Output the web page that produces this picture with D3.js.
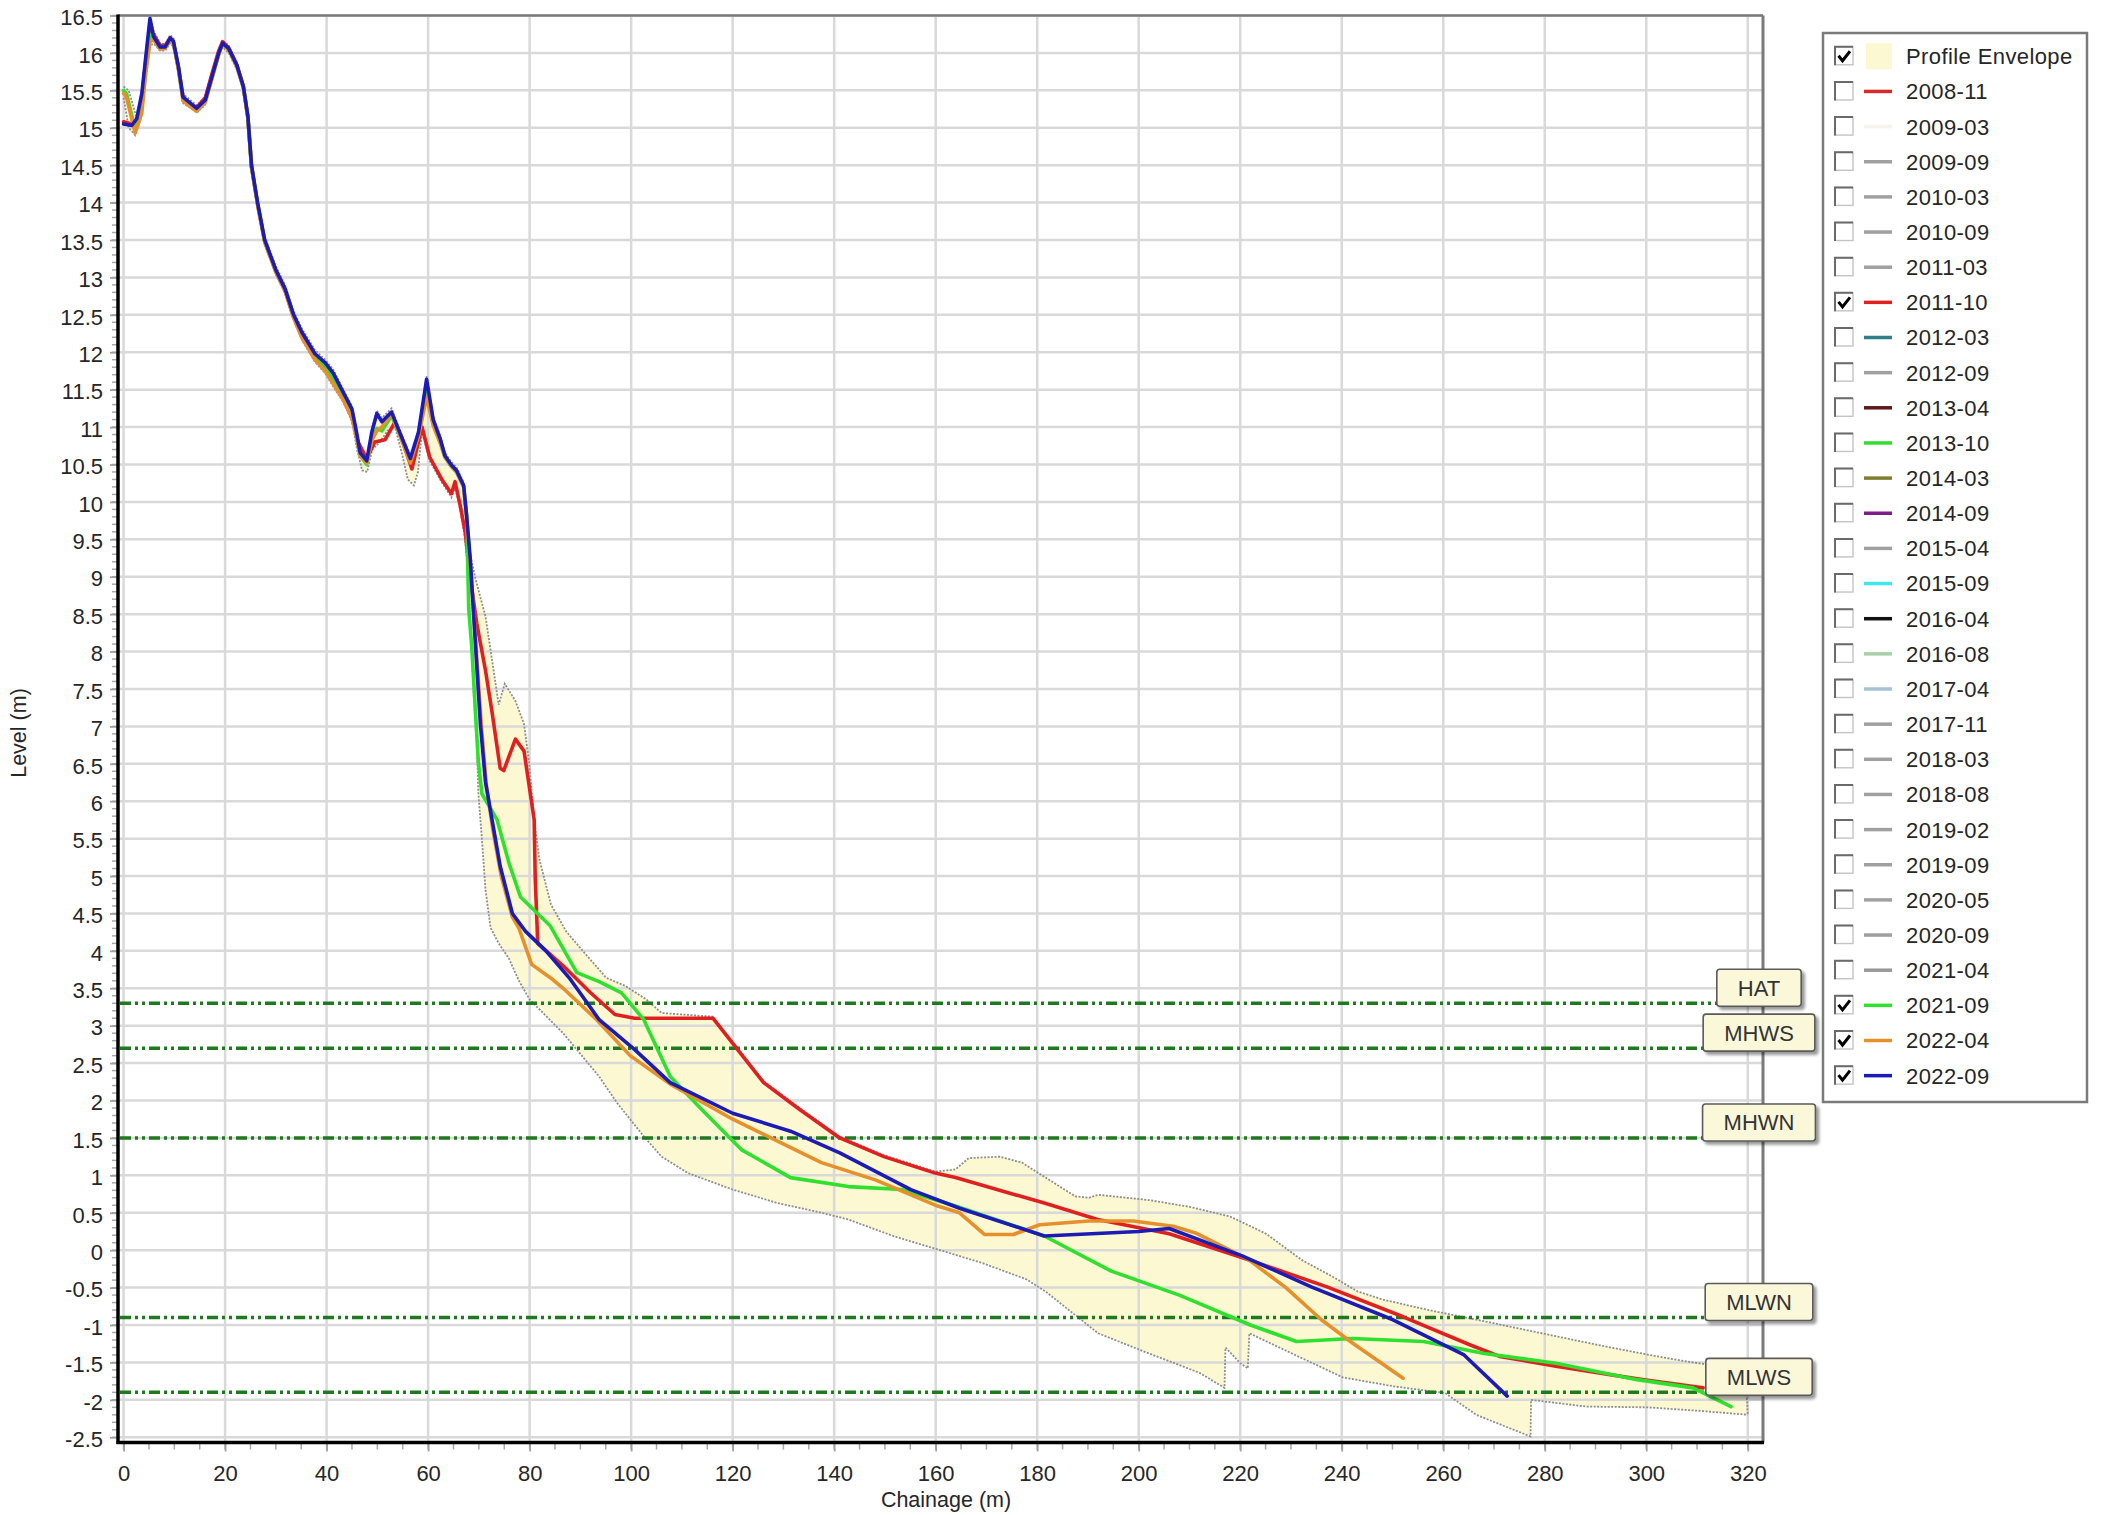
<!DOCTYPE html>
<html>
<head>
<meta charset="utf-8">
<script src="https://cdn.jsdelivr.net/npm/d3@7"></script>
<style>
  html, body { margin: 0; padding: 0; background: #ffffff; }
  svg { display: block; font-family: "Liberation Sans", Arial, sans-serif; }
</style>
</head>
<body>
<svg id="chart" width="2103" height="1515"></svg>
<script>
// ---- Beach profile surveys: [chainage (m), level (m)] ----
const survey2011_10 = [
  [0,15.08],[1.6,15.05],[2.6,15.1],[3.6,15.4],[4.3,15.85],[5.2,16.3],[5.9,16.25],[7.2,16.1],[8.2,16.1],[9.2,16.2],[9.8,16.15],
  [10.8,15.8],[11.7,15.42],[12.8,15.33],[14.4,15.27],[16.1,15.4],[17.4,15.72],[18.7,16.02],[19.5,16.15],[20.7,16.07],[22.3,15.84],
  [23.6,15.55],[24.5,15.13],[25.2,14.48],[26.4,13.98],[27.8,13.48],[30,13.08],[31.8,12.83],[33.5,12.47],[35.1,12.22],[37.7,11.92],
  [39.7,11.76],[41.3,11.6],[43.3,11.38],[45,11.12],[46.2,10.8],[47.9,10.58],[49.5,10.8],[51.5,10.83],[53.5,11.07],[55,10.8],
  [56.8,10.44],[58.8,11.0],[60.3,10.6],[62.7,10.3],[64.6,10.11],[65.3,10.27],[66.3,9.96],[67.3,9.6],[68.3,8.98],[69.6,8.37],
  [71.3,7.75],[72.6,7.19],[74.2,6.44],[74.9,6.41],[77.2,6.83],[78.9,6.67],[79.9,6.21],[80.9,5.75],[81.1,4.98],[81.6,4.1],
  [86.6,3.8],[92,3.44],[96.8,3.15],[100.7,3.1],[116.1,3.1],[126.1,2.24],[133.2,1.88],[141.1,1.5],[149.8,1.25],[159.9,1.03],
  [163.9,0.97],[181.4,0.63],[191.9,0.41],[206,0.22],[220,-0.09],[237.1,-0.49],[252.1,-0.89],[265.1,-1.26],[271.1,-1.42],
  [282.2,-1.55],[299.2,-1.73],[311.2,-1.84]
];
const survey2021_09 = [
  [0,15.5],[0.6,15.45],[2.3,14.97],[3.6,15.3],[4.3,15.8],[5.2,16.25],[5.9,16.2],[7.2,16.08],[8.2,16.08],[9.2,16.18],[9.8,16.14],
  [10.8,15.8],[11.7,15.38],[12.8,15.32],[14.4,15.24],[16.1,15.36],[17.4,15.66],[18.7,15.98],[19.5,16.12],[20.7,16.05],[22.3,15.83],
  [23.6,15.54],[24.5,15.14],[25.2,14.49],[26.4,13.99],[27.8,13.49],[30,13.09],[31.8,12.84],[33.5,12.48],[35.1,12.25],[37.7,11.95],
  [39.7,11.82],[41.3,11.66],[43.3,11.42],[45,11.18],[45.9,10.88],[46.6,10.62],[47.9,10.5],[48.9,10.85],[49.9,10.98],[50.9,10.95],
  [52.8,11.15],[54.1,10.95],[56.5,10.55],[58.1,10.9],[59.7,11.45],[61,11.05],[62.4,10.8],[63.3,10.6],[64.5,10.48],[65.6,10.4],
  [67,10.2],[67.6,9.8],[68,8.57],[68.6,8.06],[69.9,6.52],[70.6,6.1],[73.6,5.75],[75.9,5.18],[78.2,4.72],[84,4.34],[89.3,3.71],
  [93.7,3.59],[98.1,3.44],[102.5,3.08],[107.7,2.32],[113.9,1.88],[121.8,1.34],[131.4,0.97],[142.8,0.85],[153.3,0.81],[163.9,0.59],
  [181.4,0.19],[194.6,-0.28],[208,-0.6],[222,-1.0],[231.1,-1.22],[242.1,-1.18],[256.1,-1.22],[268.1,-1.38],[282.2,-1.51],
  [298.2,-1.73],[309.2,-1.84],[316.7,-2.09]
];
const survey2022_04 = [
  [0,15.46],[0.6,15.4],[2.3,14.93],[3.6,15.2],[4.3,15.7],[5.2,16.15],[5.9,16.18],[7.2,16.05],[8.2,16.06],[9.2,16.17],[9.8,16.13],
  [10.8,15.78],[11.7,15.36],[12.8,15.3],[14.4,15.22],[16.1,15.34],[17.4,15.65],[18.7,15.97],[19.5,16.12],[20.7,16.04],[22.3,15.82],
  [23.6,15.53],[24.5,15.12],[25.2,14.47],[26.4,13.97],[27.8,13.47],[30,13.07],[31.8,12.82],[33.5,12.46],[35.1,12.2],[37.7,11.9],
  [39.7,11.75],[41.3,11.58],[43.3,11.36],[45,11.12],[45.9,10.86],[46.6,10.62],[47.9,10.52],[48.9,10.82],[49.9,10.95],[50.9,11.0],
  [52.8,11.18],[54.1,10.95],[56.5,10.52],[58.1,10.88],[59.7,11.4],[61,11.02],[62.4,10.78],[63.3,10.6],[64.5,10.48],[65.6,10.4],
  [67,10.2],[67.6,9.8],[68.5,9.0],[69.5,8.0],[70.5,7.0],[71.5,6.2],[72.8,5.6],[74.4,5.0],[76.6,4.45],[77.9,4.3],[80.4,3.82],
  [84.5,3.62],[86.6,3.5],[93.2,3.08],[99.8,2.6],[107.7,2.22],[120,1.75],[137.5,1.17],[148.1,0.94],[160.4,0.59],[164.7,0.5],
  [169.6,0.21],[175.3,0.21],[180.5,0.34],[190.2,0.39],[198.9,0.39],[206.8,0.32],[211.2,0.23],[221.5,-0.12],[229,-0.5],
  [236,-0.93],[242.1,-1.24],[252.1,-1.71]
];
const survey2022_09 = [
  [0,15.05],[1.6,15.03],[2.6,15.12],[3.6,15.46],[4.3,15.9],[5.2,16.46],[5.9,16.22],[7.2,16.08],[8.2,16.08],[9.2,16.2],[9.8,16.16],
  [10.8,15.82],[11.7,15.41],[12.8,15.35],[14.4,15.26],[16.1,15.37],[17.4,15.68],[18.7,15.99],[19.5,16.13],[20.7,16.06],[22.3,15.84],
  [23.6,15.55],[24.5,15.15],[25.2,14.5],[26.4,14.0],[27.8,13.5],[30,13.1],[31.8,12.85],[33.5,12.5],[35.1,12.27],[37.7,11.98],
  [39.7,11.86],[41.3,11.72],[43.3,11.46],[45,11.24],[45.9,10.93],[46.6,10.66],[47.9,10.55],[48.9,10.93],[49.9,11.18],[50.9,11.07],
  [52.8,11.2],[54.1,10.98],[56.5,10.58],[58.1,10.93],[59.7,11.64],[61,11.1],[62.4,10.84],[63.3,10.62],[64.5,10.5],[65.6,10.42],
  [67,10.22],[67.6,9.8],[68.3,9.24],[68.9,8.57],[69.6,7.8],[70.3,7.03],[71.3,6.26],[72.6,5.75],[74.2,5.13],[76.6,4.5],[79.2,4.26],
  [83.2,4.0],[87.8,3.64],[93.7,3.08],[100.7,2.68],[107.7,2.24],[120,1.83],[131.4,1.59],[141.1,1.3],[155.1,0.81],[164.7,0.56],
  [181.4,0.19],[200,0.25],[206,0.29],[220.5,-0.08],[234,-0.49],[250.1,-0.93],[264.1,-1.4],[272.6,-1.95]
];

// ---- Profile envelope (highest and lowest level recorded over all surveys) ----
const envelopeUpper = [
  [0,15.55],[1,15.5],[2.5,15.15],[3.6,15.5],[4.3,15.95],[5.2,16.5],[6,16.28],[7.2,16.12],[8.2,16.12],[9.2,16.24],[9.8,16.2],
  [10.8,15.86],[11.7,15.45],[12.8,15.39],[14.4,15.3],[16.1,15.42],[17.4,15.72],[18.7,16.03],[19.5,16.17],[20.7,16.1],[22.3,15.88],
  [23.6,15.59],[24.5,15.2],[25.2,14.55],[26.4,14.05],[27.8,13.55],[30,13.15],[31.8,12.9],[33.5,12.55],[35.1,12.32],[37.7,12.03],
  [39.7,11.9],[41.3,11.77],[43.3,11.5],[45,11.28],[45.9,10.97],[46.6,10.7],[47.9,10.6],[48.9,10.97],[49.9,11.22],[50.9,11.12],
  [52.8,11.25],[54.1,11.02],[56.5,10.62],[58.1,10.97],[59.7,11.68],[61,11.14],[62.4,10.88],[63.3,10.66],[64.5,10.54],[65.6,10.46],
  [67,10.26],[67.6,9.85],[68.3,9.3],[69.3,8.98],[71.3,8.47],[72.9,7.75],[73.9,7.29],[75.1,7.57],[77.2,7.34],[78.9,7.03],
  [79.9,6.52],[80.9,5.75],[81.9,5.23],[84.2,4.62],[87.2,4.26],[91.1,3.95],[95.1,3.64],[98.9,3.53],[103,3.35],[106,3.17],
  [116.1,3.12],[126.1,2.26],[133.2,1.9],[141.1,1.52],[149.8,1.27],[160,1.05],[163.9,1.08],[166.5,1.23],[172.6,1.25],[177,1.17],
  [187.5,0.72],[190.2,0.7],[192,0.74],[202,0.67],[210,0.58],[218,0.45],[225.1,0.22],[232.1,-0.13],[238.1,-0.35],[243.1,-0.55],
  [248.1,-0.66],[257.1,-0.8],[268.1,-0.95],[282.2,-1.15],[292.2,-1.29],[302.2,-1.42],[308.2,-1.49],[319.5,-1.6]
];
const envelopeLower = [
  [0,15.4],[1,15.0],[2.3,14.9],[3.5,15.15],[4.3,15.6],[5.2,16.1],[6,16.12],[7.2,16.03],[8.2,16.03],[9.2,16.13],[9.8,16.08],
  [10.8,15.74],[11.7,15.33],[12.8,15.28],[14.4,15.2],[16.1,15.31],[17.4,15.62],[18.7,15.93],[19.5,16.08],[20.7,16.0],[22.3,15.78],
  [23.6,15.5],[24.5,15.1],[25.2,14.44],[26.4,13.94],[27.8,13.44],[30,13.04],[31.8,12.79],[33.5,12.43],[35.1,12.17],[37.7,11.87],
  [39.7,11.72],[41.3,11.54],[43.3,11.33],[45,11.08],[46,10.7],[47,10.42],[48,10.4],[49,10.7],[50.5,10.8],[52,10.95],[53.5,11.0],
  [55,10.6],[56,10.3],[57.2,10.22],[58,10.4],[58.8,10.95],[60.3,10.55],[62.7,10.26],[64.6,10.06],[65.3,10.2],[66.3,9.9],
  [67.3,9.5],[67.9,9.0],[68.3,8.4],[69,7.39],[69.6,6.77],[69.9,6.1],[70.6,5.49],[71.3,4.82],[72.3,4.31],[73.9,4.1],[75.9,3.9],
  [77.9,3.6],[80,3.35],[86.6,2.9],[93.7,2.32],[97.2,1.97],[102.5,1.52],[106,1.25],[111.2,1.03],[120,0.81],[128.8,0.63],
  [137.5,0.5],[142.8,0.41],[151.6,0.19],[160.4,0.01],[169.1,-0.17],[177.9,-0.39],[181.8,-0.56],[192,-1.11],[202,-1.38],
  [212,-1.64],[216.9,-1.84],[217.1,-1.3],[220,-1.51],[221.5,-1.58],[221.8,-1.11],[230.2,-1.38],[240.2,-1.7],[250.3,-1.82],
  [260.4,-1.91],[266.5,-2.2],[277.2,-2.49],[277.3,-2.0],[288.2,-2.09],[300.2,-2.1],[311.2,-2.15],[320,-2.2]
];

// ---- Tidal levels ----
const tideNames  = ["HAT", "MHWS", "MHWN", "MLWN", "MLWS"];
const tideLevels = [3.3, 2.7, 1.5, -0.9, -1.9];

// ---- Axis ticks ----
const xTickValues = [0, 20, 40, 60, 80, 100, 120, 140, 160, 180, 200, 220, 240, 260, 280, 300, 320];
const yTickValues = [-2.5, -2, -1.5, -1, -0.5, 0, 0.5, 1, 1.5, 2, 2.5, 3, 3.5, 4, 4.5, 5, 5.5, 6, 6.5, 7, 7.5, 8,
                     8.5, 9, 9.5, 10, 10.5, 11, 11.5, 12, 12.5, 13, 13.5, 14, 14.5, 15, 15.5, 16, 16.5];

// ---- Legend ----
const legendNames = ["Profile Envelope", "2008-11", "2009-03", "2009-09", "2010-03", "2010-09", "2011-03", "2011-10",
  "2012-03", "2012-09", "2013-04", "2013-10", "2014-03", "2014-09", "2015-04", "2015-09", "2016-04", "2016-08",
  "2017-04", "2017-11", "2018-03", "2018-08", "2019-02", "2019-09", "2020-05", "2020-09", "2021-04", "2021-09",
  "2022-04", "2022-09"];
const legendColors = ["#fcf8d2", "#d42a2a", "#f4f4ec", "#a0a0a0", "#a0a0a0", "#a0a0a0", "#a0a0a0", "#e02020",
  "#2f7f88", "#a0a0a0", "#5c1a1a", "#33dd33", "#7f7f30", "#7a1f8a", "#a0a0a0", "#44e4ec", "#111111", "#a8d0a8",
  "#a4c4d4", "#a0a0a0", "#a0a0a0", "#a0a0a0", "#a0a0a0", "#a0a0a0", "#a0a0a0", "#a0a0a0", "#999999", "#2fe02f",
  "#e6902c", "#1c1cb4"];
const legendChecked = ["Profile Envelope", "2011-10", "2021-09", "2022-04", "2022-09"];

// Plotted surveys, drawn in legend order
const plotted = [
  { name: "2011-10", data: survey2011_10 },
  { name: "2021-09", data: survey2021_09 },
  { name: "2022-04", data: survey2022_04 },
  { name: "2022-09", data: survey2022_09 }
];

const FONT = '"Liberation Sans", Arial, sans-serif';
const svg = d3.select("#chart");

const x = d3.scaleLinear().domain([-1.1, 323]).range([118, 1763]);
const y = d3.scaleLinear().domain([-2.57, 16.5]).range([1442.5, 15.5]);
const [plotL, plotR] = x.range();
const [plotB, plotT] = y.range();
const colorOf = name => legendColors[legendNames.indexOf(name)];

const line = d3.line().x(d => x(d[0])).y(d => y(d[1]));

// shadow used by the tide level tags
const defs = svg.append("defs");
const shadow = defs.append("filter").attr("id", "tagShadow").attr("x", "-20%").attr("y", "-30%")
  .attr("width", "150%").attr("height", "170%");
shadow.append("feDropShadow").attr("dx", 3).attr("dy", 3).attr("stdDeviation", 1.6)
  .attr("flood-color", "#000").attr("flood-opacity", 0.4);
defs.append("clipPath").attr("id", "plotClip").append("rect")
  .attr("x", plotL).attr("y", plotT).attr("width", plotR - plotL).attr("height", plotB - plotT);

// envelope fill
const envPolygon = envelopeUpper.concat(envelopeLower.slice().reverse());
svg.append("path")
  .attr("d", line(envPolygon) + "Z")
  .attr("fill", colorOf("Profile Envelope"));

// grid
const grid = svg.append("g").attr("stroke", "#d9d9d9").attr("stroke-width", 2.5);
grid.selectAll("line.v").data(xTickValues).join("line").attr("class", "v")
  .attr("x1", d => x(d)).attr("x2", d => x(d)).attr("y1", plotT).attr("y2", plotB);
grid.selectAll("line.h").data(yTickValues).join("line").attr("class", "h")
  .attr("x1", plotL).attr("x2", plotR).attr("y1", d => y(d)).attr("y2", d => y(d));

// envelope outline (dotted)
const envOutline = svg.append("g").attr("fill", "none").attr("stroke", "#8e8e8e")
  .attr("stroke-width", 1.8).attr("stroke-dasharray", "2,1.5");
envOutline.append("path").attr("d", line(envelopeUpper));
envOutline.append("path").attr("d", line(envelopeLower));
envOutline.append("path").attr("d", line([envelopeUpper[envelopeUpper.length - 1], envelopeLower[envelopeLower.length - 1]]));

// tidal level lines
svg.append("g").selectAll("line").data(tideLevels).join("line")
  .attr("x1", plotL + 2).attr("x2", plotR).attr("y1", d => y(d)).attr("y2", d => y(d))
  .attr("stroke", "#1f7a1f").attr("stroke-width", 3.5).attr("stroke-dasharray", "11,4,3,4,3,4");

// survey lines
svg.append("g").attr("clip-path", "url(#plotClip)")
  .selectAll("path").data(plotted).join("path")
  .attr("d", d => line(d.data))
  .attr("fill", "none")
  .attr("stroke", d => colorOf(d.name))
  .attr("stroke-width", 3.6)
  .attr("stroke-linejoin", "round")
  .attr("stroke-linecap", "round");

// minor ticks
const minorY = d3.range(-25, 166).map(i => i / 10);
const minorX = d3.range(0, 65).map(i => i * 5);
svg.append("g").attr("stroke", "#a8a8a8").attr("stroke-width", 1.5)
  .selectAll("line").data(minorY).join("line")
  .attr("x1", plotL - 6).attr("x2", plotL).attr("y1", d => y(d)).attr("y2", d => y(d));
svg.append("g").attr("stroke", "#a8a8a8").attr("stroke-width", 1.5)
  .selectAll("line").data(minorX).join("line")
  .attr("x1", d => x(d)).attr("x2", d => x(d)).attr("y1", plotB).attr("y2", plotB + 7);

// axes
const yAxis = svg.append("g").attr("transform", `translate(${plotL},0)`)
  .call(d3.axisLeft(y).tickValues(yTickValues).tickSize(8).tickPadding(7).tickFormat(d => String(d)));
const xAxis = svg.append("g").attr("transform", `translate(0,${plotB})`)
  .call(d3.axisBottom(x).tickValues(xTickValues).tickSize(9).tickPadding(14).tickFormat(d => String(d)));
[yAxis, xAxis].forEach(g => {
  g.attr("font-family", FONT).attr("font-size", 22);
  g.select(".domain").remove();
  g.selectAll(".tick line").attr("stroke", "#a0a0a0").attr("stroke-width", 1.8);
  g.selectAll(".tick text").attr("fill", "#262626");
});
yAxis.selectAll(".tick text").attr("dy", "0.42em");

// frame: black left/bottom axes, grey top/right border
svg.append("line").attr("x1", plotL).attr("x2", plotR).attr("y1", plotT).attr("y2", plotT)
  .attr("stroke", "#7a7a7a").attr("stroke-width", 2.5);
svg.append("line").attr("x1", plotR).attr("x2", plotR).attr("y1", plotT).attr("y2", plotB)
  .attr("stroke", "#7a7a7a").attr("stroke-width", 3);
svg.append("line").attr("x1", plotL).attr("x2", plotL).attr("y1", plotT - 1).attr("y2", plotB + 1.5)
  .attr("stroke", "#000").attr("stroke-width", 3.5);
svg.append("line").attr("x1", plotL - 1.5).attr("x2", plotR + 1).attr("y1", plotB).attr("y2", plotB)
  .attr("stroke", "#000").attr("stroke-width", 3.5);

// axis titles
svg.append("text").attr("transform", `translate(26,${(plotT + plotB) / 2 + 4}) rotate(-90)`)
  .attr("text-anchor", "middle").attr("font-family", FONT).attr("font-size", 21.5).attr("fill", "#262626")
  .text("Level (m)");
svg.append("text").attr("x", 946).attr("y", 1507)
  .attr("text-anchor", "middle").attr("font-family", FONT).attr("font-size", 21.5).attr("fill", "#262626")
  .text("Chainage (m)");

// tidal level tags on the right edge of the plot
const tags = svg.append("g").selectAll("g").data(tideNames).join("g")
  .attr("transform", (d, i) => `translate(${plotR - 4},${y(tideLevels[i]) + 3})`);
tags.each(function (d) {
  const g = d3.select(this);
  const t = g.append("text").attr("text-anchor", "middle").attr("y", -18.5).attr("dy", "0.36em")
    .attr("font-family", FONT).attr("font-size", 22).attr("fill", "#333").text(d);
  const w = t.node().getComputedTextLength() + 42;
  g.insert("rect", "text").attr("x", -w / 2).attr("y", -37).attr("width", w).attr("height", 37)
    .attr("rx", 3).attr("fill", "#fbf8d9").attr("stroke", "#5a5a5a").attr("stroke-width", 1.6)
    .attr("filter", "url(#tagShadow)");
});

// legend
const legend = svg.append("g");
legend.append("rect").attr("x", 1823).attr("y", 33).attr("width", 264).attr("height", 1069)
  .attr("fill", "#fff").attr("stroke", "#7a7a7a").attr("stroke-width", 2.5);
const rowY = i => 56.3 + i * 35.15;
const rows = legend.selectAll("g.row").data(legendNames).join("g").attr("class", "row")
  .attr("transform", (d, i) => `translate(0,${rowY(i)})`);
rows.append("rect").attr("x", 1835).attr("y", -9.5).attr("width", 18).attr("height", 18)
  .attr("fill", "#fff").attr("stroke", "#c4c4c4").attr("stroke-width", 1.4);
rows.append("path").attr("d", "M1835,9 V-9.5 H1853").attr("fill", "none")
  .attr("stroke", "#6a6a6a").attr("stroke-width", 2);
rows.filter(d => legendChecked.includes(d)).append("path")
  .attr("d", "M1838.5,-0.5 L1842.5,4.5 L1850,-5").attr("fill", "none")
  .attr("stroke", "#000").attr("stroke-width", 3).attr("stroke-linejoin", "miter");
rows.each(function (d, i) {
  const g = d3.select(this);
  if (d === "Profile Envelope") {
    g.append("rect").attr("x", 1866).attr("y", -13).attr("width", 26).attr("height", 26)
      .attr("fill", legendColors[i]);
  } else {
    g.append("line").attr("x1", 1864).attr("x2", 1892).attr("y1", 0).attr("y2", 0)
      .attr("stroke", legendColors[i]).attr("stroke-width", 3.5);
  }
});
rows.append("text").attr("x", 1906).attr("dy", "0.36em")
  .attr("font-family", FONT).attr("font-size", 22).attr("letter-spacing", 0.4).attr("fill", "#262626")
  .text(d => d);
</script>
</body>
</html>
